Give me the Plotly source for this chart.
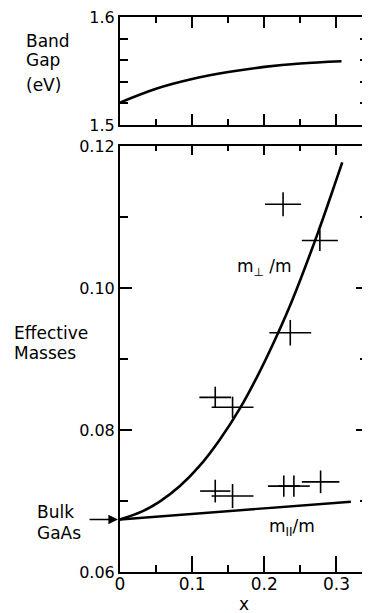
import plotly.graph_objects as go

# ---------------- data ----------------
gap_x = [0.0, 0.05, 0.10, 0.15, 0.20, 0.25, 0.307]
gap_y = [1.5207, 1.5335, 1.5425, 1.5490, 1.5538, 1.5570, 1.5590]

mperp_x = [0.0, 0.03, 0.055, 0.083, 0.11, 0.138, 0.166, 0.194, 0.217, 0.238, 0.274, 0.300, 0.308]
mperp_y = [0.0674, 0.0685, 0.0699, 0.0721, 0.0749, 0.0786, 0.0830, 0.0883, 0.0932, 0.0981, 0.1077, 0.1153, 0.1177]

mpar_x = [0.0, 0.32]
mpar_y = [0.0674, 0.0699]

pts_x = [0.226, 0.277, 0.236, 0.132, 0.156, 0.132, 0.156, 0.227, 0.241, 0.278]
pts_y = [0.1118, 0.1067, 0.0937, 0.0846, 0.0832, 0.0714, 0.0707, 0.0721, 0.0721, 0.0727]
pts_xerr = [0.025, 0.025, 0.029, 0.022, 0.029, 0.021, 0.029, 0.022, 0.022, 0.026]
pts_yerr = [0.0017, 0.0015, 0.0018, 0.0015, 0.0015, 0.0016, 0.0017, 0.0015, 0.0015, 0.0016]

bulk_gaas = 0.0674

x_ticks = [0, 0.1, 0.2, 0.3]
x_ticklabels = ["0", "0.1", "0.2", "0.3"]
x_minor = [0.05, 0.15, 0.25]
m_ticks = [0.06, 0.08, 0.10, 0.12]
m_ticklabels = ["0.06", "0.08", "0.10", "0.12"]
m_minor = [0.07, 0.09, 0.11]
g_ticks = [1.5, 1.6]
g_ticklabels = ["1.5", "1.6"]
g_minor = [1.52, 1.54, 1.56, 1.58]

# ---------------- layout helpers ----------------
# the page body has an 8px margin, so the figure is drawn 8px in from the window corner
OFF = 8
W, H = 370 - OFF, 613 - OFF
PL, PR, PT, PB = 120, 368.5, 17, 572          # plot area in window pixels
L, R, T, B = PL - OFF, W - (PR - OFF), PT - OFF, H - (PB - OFF)
PW, PH = PR - PL, PB - PT


def px(xw):
    return (xw - PL) / PW


def py(yw):
    return (PB - yw) / PH


FONT = "DejaVu Sans"
BLACK = "black"

fig = go.Figure()

# top panel: band gap
fig.add_trace(go.Scatter(x=gap_x, y=gap_y, mode="lines", xaxis="x2", yaxis="y2",
                         line=dict(color=BLACK, width=2.6, shape="spline"),
                         showlegend=False, hoverinfo="skip"))

# bottom panel curves
fig.add_trace(go.Scatter(x=mperp_x, y=mperp_y, mode="lines", xaxis="x", yaxis="y",
                         line=dict(color=BLACK, width=2.6, shape="spline"),
                         showlegend=False, hoverinfo="skip"))
fig.add_trace(go.Scatter(x=mpar_x, y=mpar_y, mode="lines", xaxis="x", yaxis="y",
                         line=dict(color=BLACK, width=2.4),
                         showlegend=False, hoverinfo="skip"))

# data points with error crosses
fig.add_trace(go.Scatter(x=pts_x, y=pts_y, mode="markers", xaxis="x", yaxis="y",
                         marker=dict(size=1, color=BLACK),
                         error_x=dict(type="data", array=pts_xerr, width=0, thickness=1.6, color=BLACK),
                         error_y=dict(type="data", array=pts_yerr, width=0, thickness=1.6, color=BLACK),
                         showlegend=False, hoverinfo="skip"))

# dummy trace for overlay top-tick axis
fig.add_trace(go.Scatter(x=[0], y=[0.06], mode="markers", xaxis="x3", yaxis="y",
                         marker=dict(size=0.1, opacity=0), showlegend=False, hoverinfo="skip"))

xr = [0, PW / 723.0]
top_dom = [py(125), 1.0]
bot_dom = [0.0, py(146)]

base = dict(showgrid=False, zeroline=False, showline=True, linecolor=BLACK, linewidth=2,
            ticks="inside", tickcolor=BLACK, tickwidth=2)
tfont = dict(family=FONT, size=16, color=BLACK)


def minor(vals, ln):
    return dict(tickmode="array", tickvals=vals, ticklen=ln, ticks="inside",
                tickcolor=BLACK, tickwidth=2)


fig.update_layout(
    width=W, height=H,
    margin=dict(l=L, r=R, t=T, b=B, autoexpand=False),
    paper_bgcolor="white", plot_bgcolor="white",
    xaxis=dict(**base, domain=[0, 1], anchor="y", range=xr,
               tickmode="array", tickvals=x_ticks, ticktext=x_ticklabels, ticklen=16,
               minor=minor(x_minor, 7), ticklabelstandoff=-4, ticklabeloverflow="allow",
               tickfont=dict(family=FONT, size=17, color=BLACK)),
    xaxis3=dict(**base, overlaying="x", side="top", anchor="y", range=xr,
                tickmode="array", tickvals=x_ticks, ticklen=9, showticklabels=False,
                minor=minor(x_minor, 5)),
    yaxis=dict(**base, domain=bot_dom, anchor="x", range=[0.06, 0.12], mirror="ticks",
               tickmode="array", tickvals=m_ticks, ticktext=m_ticklabels, ticklen=12,
               minor=minor(m_minor, 8), tickfont=tfont, ticklabeloverflow="allow"),
    xaxis2=dict(**base, domain=[0, 1], anchor="y2", range=xr, mirror="ticks",
                tickmode="array", tickvals=x_ticks, ticklen=11, showticklabels=False,
                minor=minor(x_minor, 6)),
    yaxis2=dict(**base, domain=top_dom, anchor="x2", range=[1.5, 1.6], mirror="ticks",
                tickmode="array", tickvals=g_ticks, ticktext=g_ticklabels, ticklen=8,
                minor=minor(g_minor, 8), tickfont=tfont, ticklabeloverflow="allow"),
)

ann_font = dict(family=FONT, size=17, color=BLACK)
left_labels = [
    ("Band", 24, 40), ("Gap", 24, 59), ("(eV)", 24, 84),
    ("Effective", 12, 332.5), ("Masses", 12, 351.5),
    ("Bulk", 35, 510.5), ("GaAs", 35, 531.5),
]
for txt, lx, cy in left_labels:
    fig.add_annotation(text=txt, xref="paper", yref="paper", x=px(lx), y=py(cy + 1),
                       xanchor="left", yanchor="middle", showarrow=False, font=ann_font)

fig.add_annotation(text="x", xref="paper", yref="paper", x=px(244), y=py(604),
                   xanchor="center", yanchor="middle", showarrow=False, font=ann_font)

fig.add_annotation(text="m<sub>⊥</sub> /m", xref="paper", yref="paper", x=px(265), y=py(267),
                   xanchor="center", yanchor="middle", showarrow=False, font=ann_font)
fig.add_annotation(text="m<sub>II</sub>/m", xref="paper", yref="paper", x=px(292), y=py(527),
                   xanchor="center", yanchor="middle", showarrow=False, font=ann_font)

# Bulk GaAs arrow
fig.add_annotation(text="", xref="x", yref="y", x=0, y=bulk_gaas, ax=-32, ay=0,
                   showarrow=True, arrowhead=2, arrowsize=1.2, arrowwidth=1.6,
                   arrowcolor=BLACK, standoff=2)

fig.write_html("out.html")
